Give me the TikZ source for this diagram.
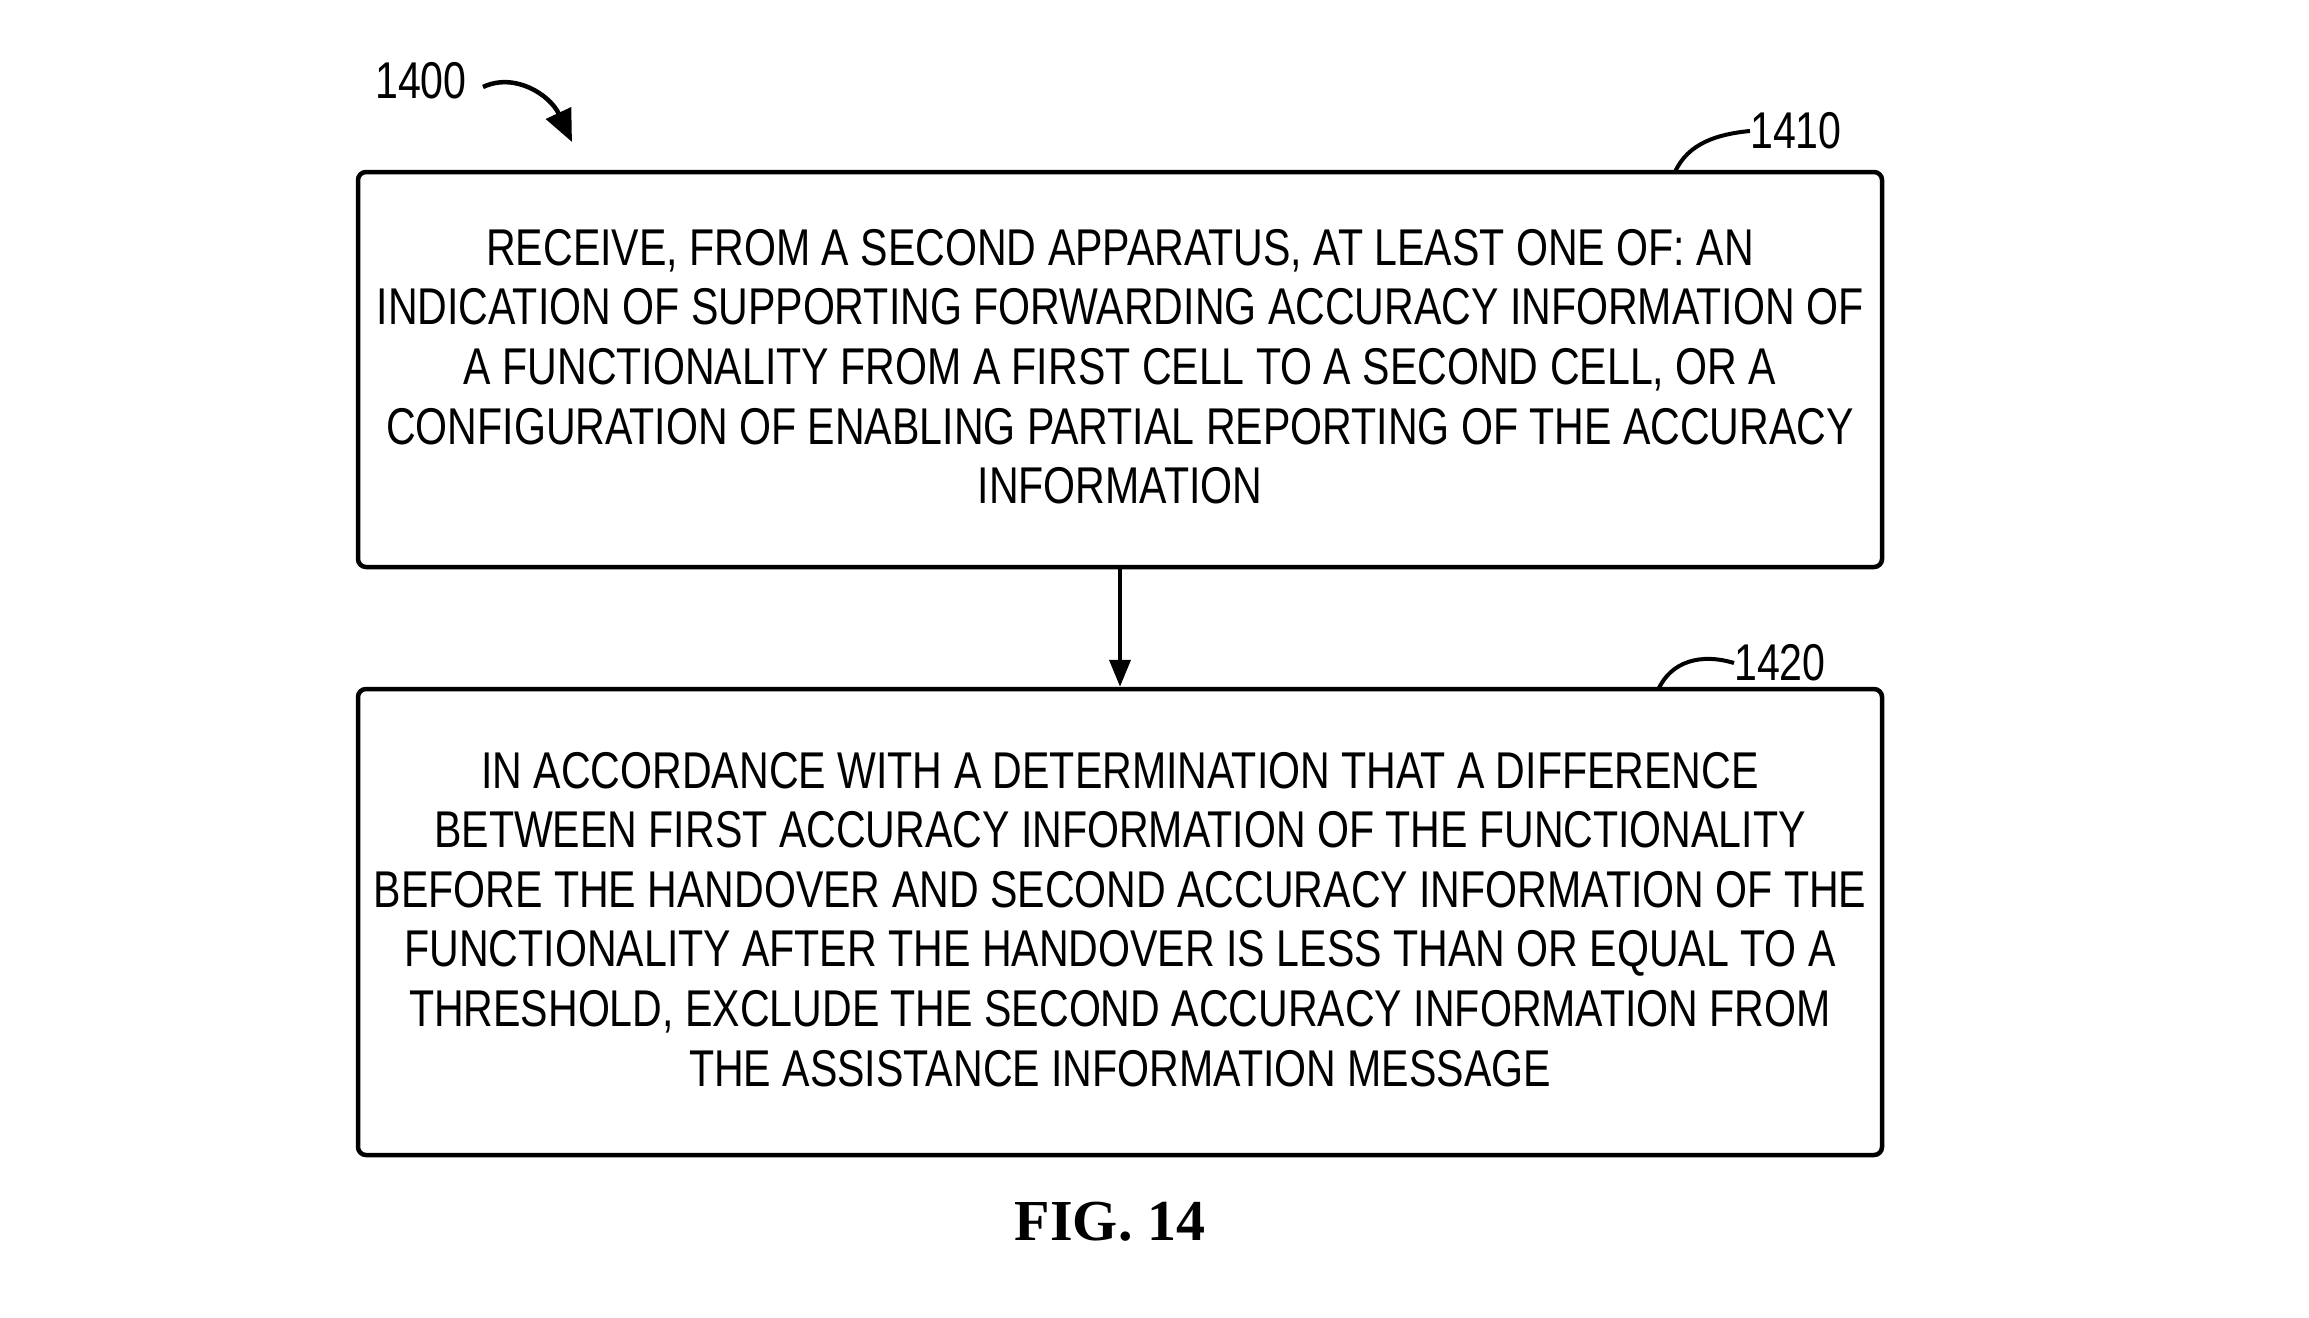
\documentclass[tikz,border=0pt]{standalone}
\usepackage{fontspec}
\setmainfont{Liberation Sans}[FakeStretch=0.795]
\newfontfamily\figfont{Liberation Serif}
\usetikzlibrary{arrows.meta}
\begin{document}
\begin{tikzpicture}[x=1pt,y=-1pt,
  box/.style={draw, line width=4.5pt, rounded corners=8pt, align=center, inner sep=0pt,
    minimum width=1524pt, font=\fontsize{51.7}{59.6}\selectfont},
  lbl/.style={inner sep=0pt, font=\fontsize{51.7}{59.6}\selectfont},
  lead/.style={line width=4pt},
  arr/.style={line width=4pt, -{Triangle[length=27pt,width=21pt]}}]
\useasboundingbox (0,0) rectangle (2309,1317);
\node[box, minimum height=395pt] (b1) at (1120,369.5) {RECEIVE, FROM A SECOND APPARATUS, AT LEAST ONE OF: AN\\
INDICATION OF SUPPORTING FORWARDING ACCURACY INFORMATION OF\\
A FUNCTIONALITY FROM A FIRST CELL TO A SECOND CELL, OR A\\
CONFIGURATION OF ENABLING PARTIAL REPORTING OF THE ACCURACY\\
INFORMATION\rule[-6pt]{0pt}{1pt}};
\node[box, minimum height=466pt] (b2) at (1120,922) {IN ACCORDANCE WITH A DETERMINATION THAT A DIFFERENCE\\
BETWEEN FIRST ACCURACY INFORMATION OF THE FUNCTIONALITY\\
BEFORE THE HANDOVER AND SECOND ACCURACY INFORMATION OF THE\\
FUNCTIONALITY AFTER THE HANDOVER IS LESS THAN OR EQUAL TO A\\
THRESHOLD, EXCLUDE THE SECOND ACCURACY INFORMATION FROM\\
THE ASSISTANCE INFORMATION MESSAGE\rule[-6pt]{0pt}{1pt}};
\draw[arr] (b1.south) -- (b2.north);
\node[lbl, anchor=west] (l1400) at (375,81) {1400};
\node[lbl, anchor=west] (l1410) at (1750,131) {1410};
\node[lbl, anchor=west] (l1420) at (1734,663) {1420};
\coordinate (c1410) at (1675,172);
\coordinate (c1420) at (1658,690);
\coordinate (a1400) at (483,87);
\coordinate (t1400) at (572,142);
\draw[lead] (c1410) .. controls (1688,143) and (1718,134) .. (l1410.west);
\draw[lead] (c1420) .. controls (1671,661) and (1701,653) .. (l1420.west);
\draw[line width=4.5pt, -{Triangle[length=32pt,width=27pt]}] (a1400) .. controls (515,72) and (550,95) .. (t1400);
\node[inner sep=0pt, font=\figfont\bfseries\fontsize{58}{60}\selectfont] (fig) at (1110,1222) {FIG. 14};
\end{tikzpicture}
\end{document}
